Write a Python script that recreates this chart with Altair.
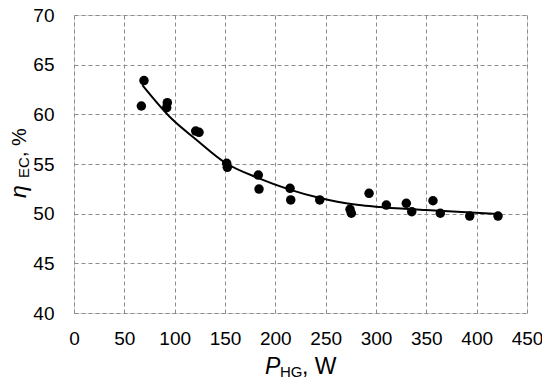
import altair as alt
import pandas as pd

# Measured data points (P_HG in W, eta_EC in %)
p_hg = [69.5, 66.9, 92.7, 92.1, 120.9, 124.2, 151.7, 152.3, 183.1, 183.8,
        214.6, 215.3, 244.1, 274.2, 275.5, 293.1, 310.3, 330.1, 335.5, 356.6,
        363.9, 393.1, 421.2]
eta_ec = [63.4, 60.84, 61.17, 60.67, 58.32, 58.19, 55.07, 54.67, 53.89, 52.48,
          52.55, 51.38, 51.38, 50.44, 50.04, 52.05, 50.87, 51.04, 50.2, 51.3,
          50.04, 49.76, 49.76]

# Trend line
trend_x = [67.9, 97.6, 120.9, 150.7, 183.8, 213.6, 243.4, 261.6, 283.1,
           299.7, 349.4, 421.2]
trend_y = [62.95, 59.5, 57.5, 55.1, 53.56, 52.45, 51.6, 51.2, 50.87,
           50.7, 50.37, 49.97]

x_ticks = [0, 50, 100, 150, 200, 250, 300, 350, 400, 450]
y_ticks = [40, 45, 50, 55, 60, 65, 70]

FONT = "Liberation Sans"

pts = pd.DataFrame({"p": p_hg, "eta": eta_ec})
trend = pd.DataFrame({"p": trend_x, "eta": trend_y})

xscale = alt.Scale(domain=[0, 450], nice=False, zero=False)
yscale = alt.Scale(domain=[40, 70], nice=False, zero=False)

xaxis = alt.Axis(values=x_ticks, title=None, grid=True, gridDash=[4, 3],
                 gridColor="#8c8c8c", gridWidth=1, domain=False, ticks=False,
                 tickSize=0, labelFont=FONT, labelFontSize=19, labelColor="black",
                 labelPadding=16, labelFlush=False, labelOverlap=False)
yaxis = alt.Axis(values=y_ticks, title=None, grid=True, gridDash=[4, 3],
                 gridColor="#8c8c8c", gridWidth=1, domain=False, ticks=False,
                 tickSize=0, labelFont=FONT, labelFontSize=19, labelColor="black",
                 labelPadding=20, labelFlush=False, labelOverlap=False)

line = alt.Chart(trend).mark_line(color="black", strokeWidth=2,
                                  interpolate="monotone").encode(
    x=alt.X("p:Q", scale=xscale, axis=xaxis),
    y=alt.Y("eta:Q", scale=yscale, axis=yaxis),
)

points = alt.Chart(pts).mark_circle(color="black", opacity=1, size=90).encode(
    x=alt.X("p:Q", scale=xscale),
    y=alt.Y("eta:Q", scale=yscale),
)

one = pd.DataFrame({"a": [0]})


def txt(s, x, y, size, italic=False, angle=0):
    kw = dict(text=s, font=FONT, fontSize=size, color="black", align="left",
              baseline="alphabetic")
    if italic:
        kw["fontStyle"] = "italic"
    if angle:
        kw["angle"] = angle
    return alt.Chart(one).mark_text(**kw).encode(x=alt.value(x), y=alt.value(y))


# x-axis title: P_HG, W  (plot origin at page (74, 15))
xt = [
    txt("P", 191, 359, 23, italic=True),
    txt("HG", 206, 362, 15),
    txt(", W", 228, 359, 23),
]
# y-axis title: eta_EC, %
yt = [
    txt("η", -48, 183, 23, italic=True, angle=270),
    txt("EC", -45, 163, 15, angle=270),
    txt(", %", -48, 142, 20, angle=270),
]

chart = alt.layer(line, points, *xt, *yt).properties(
    width=453, height=298,
    padding={"left": 66, "top": 7, "right": 15, "bottom": 66},
    autosize=alt.AutoSizeParams(type="none"),
).configure_view(stroke="black", strokeWidth=1.5).configure(background="white")

chart.save("out.html", embed_options={"renderer": "svg", "actions": False})
